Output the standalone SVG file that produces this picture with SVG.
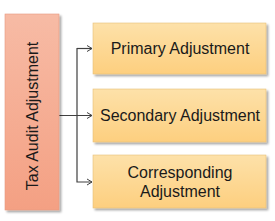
<svg xmlns="http://www.w3.org/2000/svg" width="275" height="221" viewBox="0 0 275 221">
<defs>
<linearGradient id="gL" x1="0" y1="0" x2="0" y2="1"><stop offset="0" stop-color="#f7bba5"/><stop offset="1" stop-color="#f4a083"/></linearGradient>
<linearGradient id="gR" x1="0" y1="0" x2="0" y2="1"><stop offset="0" stop-color="#fde1a9"/><stop offset="1" stop-color="#fdcf7f"/></linearGradient>
<filter id="sh" x="-10%" y="-10%" width="130%" height="130%"><feDropShadow dx="2" dy="2" stdDeviation="1.2" flood-color="#000" flood-opacity="0.35"/></filter>
<marker id="ar" markerWidth="8" markerHeight="8" refX="6" refY="4" orient="auto" markerUnits="userSpaceOnUse"><path d="M1,1 L6,4 L1,7" fill="none" stroke="#404040" stroke-width="1"/></marker>
<style>
.t{font-family:"Liberation Sans",Arial,sans-serif;font-size:16px;fill:#1a1a1a;text-anchor:middle}
.bl{fill:url(#gL);stroke:#e89a80;stroke-width:0.6;filter:url(#sh)}
.br{fill:url(#gR);stroke:#e8bf7a;stroke-width:0.6;filter:url(#sh)}
.c{fill:none;stroke:#404040;stroke-width:1.2}
</style>
</defs>
<g id="connectors">
<path class="c" d="M59,115.5 H92" marker-end="url(#ar)"/>
<path class="c" d="M92,48.5 H77 V182 H92" marker-end="url(#ar)"/>
<path class="c" d="M77,48.5 H92" marker-end="url(#ar)"/>
</g>
<g id="tax-audit-adjustment">
<rect class="bl" x="5" y="14" width="54" height="196"/>
<text class="t" transform="translate(38,116) rotate(-90)">Tax Audit Adjustment</text>
</g>
<g id="primary-adjustment">
<rect class="br" x="93" y="23" width="173" height="51"/>
<text class="t" x="180" y="54">Primary Adjustment</text>
</g>
<g id="secondary-adjustment">
<rect class="br" x="93" y="89" width="173" height="53"/>
<text class="t" x="180" y="121">Secondary Adjustment</text>
</g>
<g id="corresponding-adjustment">
<rect class="br" x="93" y="155" width="173" height="53"/>
<text class="t" x="180" y="178">Corresponding</text>
<text class="t" x="180" y="197">Adjustment</text>
</g>
</svg>
